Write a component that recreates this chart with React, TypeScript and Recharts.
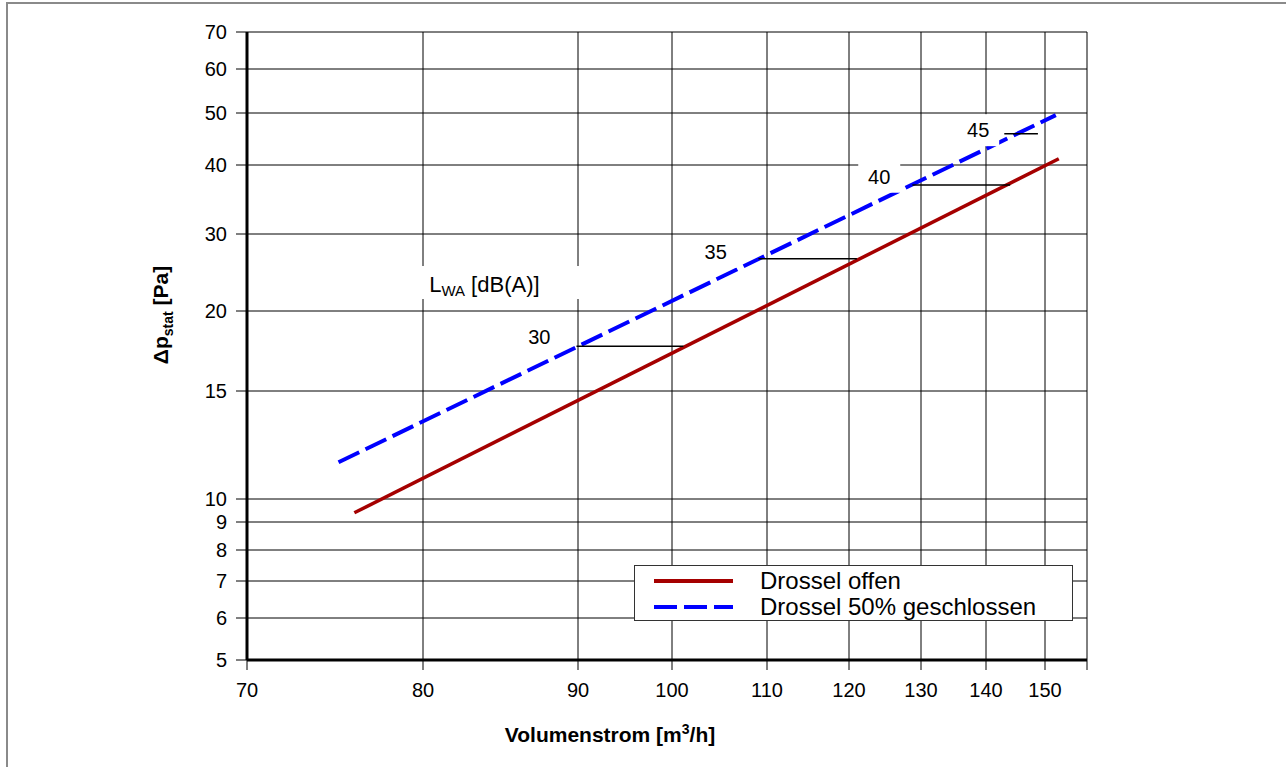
import React from 'react'
import {
  LineChart,
  Line,
  XAxis,
  YAxis,
  CartesianGrid,
  ReferenceLine,
  ReferenceDot,
  Legend,
} from 'recharts'

const FONT = '"Liberation Sans", Arial, sans-serif'

// Volumenstrom [m3/h]; the last tick is the unlabelled end of the axis
const flowTicks = [70, 80, 90, 100, 110, 120, 130, 140, 150, 157]
// spacing of the printed grid (the sheet is not a true log grid)
const flowGrid = [0, 176, 331, 425, 520, 602, 674, 739, 798, 840]

// Δp_stat [Pa]
const dpTicks = [5, 6, 7, 8, 9, 10, 15, 20, 30, 40, 50, 60, 70]
const dpGrid = [0, 42, 79, 110, 138, 161, 269, 349, 426, 495, 547, 591, 628]

const seriesNames = ['Drossel offen', 'Drossel 50% geschlossen']
const flowOpen = [76.1, 152.3]
const dpOpen = [9.4, 41.2]
const flowHalf = [75.2, 151.8]
const dpHalf = [11.7, 49.6]

// L_WA marks along the dashed curve
const levels = [30, 35, 40, 45]
const levelFlowFrom = [89.9, 109.1, 128.8, 143.1]
const levelFlowTo = [101.2, 121.1, 144.1, 148.8]
const levelDp = [17.8, 26.8, 37.1, 46.0]
const levelLabelFlow = [87.5, 104.6, 124.2, 138.8]
const levelLabelDp = [18.4, 27.7, 38.3, 46.7]

function toGrid(v: number, ticks: number[], grid: number[]) {
  let i = 0
  while (i < ticks.length - 2 && v > ticks[i + 1]) i++
  const t = (v - ticks[i]) / (ticks[i + 1] - ticks[i])
  return grid[i] + t * (grid[i + 1] - grid[i])
}
const fx = (v: number) => toGrid(v, flowTicks, flowGrid)
const fy = (v: number) => toGrid(v, dpTicks, dpGrid)

const openData = flowOpen.map((f, i) => ({ x: fx(f), y: fy(dpOpen[i]) }))
const halfData = flowHalf.map((f, i) => ({ x: fx(f), y: fy(dpHalf[i]) }))

const xLabel = (u: number) => {
  const i = flowGrid.indexOf(u)
  return i < 0 || i === flowTicks.length - 1 ? '' : String(flowTicks[i])
}
const yLabel = (u: number) => {
  const i = dpGrid.indexOf(u)
  return i < 0 ? '' : String(dpTicks[i])
}

const XTitle = () => (
  <text x={610} y={742} textAnchor="middle" fontWeight="bold" fontSize={21} fontFamily={FONT} fill="#000">
    Volumenstrom [m<tspan dy={-8} fontSize={14}>3</tspan>
    <tspan dy={8}>/h]</tspan>
  </text>
)

const YTitle = () => (
  <text
    transform="rotate(-90 168 315)"
    x={168}
    y={315}
    textAnchor="middle"
    fontWeight="bold"
    fontSize={21}
    fontFamily={FONT}
    fill="#000"
  >
    Δp<tspan dy={5} fontSize={14}>stat</tspan>
    <tspan dy={-5}> [Pa]</tspan>
  </text>
)

const LevelTag = ({ cx, cy, text }: any) => (
  <g>
    <rect x={cx - 21} y={cy - 16} width={42} height={32} fill="#fff" />
    <text x={cx} y={cy + 7} textAnchor="middle" fontSize={20} fontFamily={FONT} fill="#000">
      {text}
    </text>
  </g>
)

const LwaTag = ({ cx, cy }: any) => (
  <g>
    <rect x={cx - 90} y={cy - 16.5} width={180} height={33} fill="#fff" />
    <text x={cx - 76} y={cy + 9.5} fontSize={22} fontFamily={FONT} fill="#000">
      L<tspan dy={4} fontSize={15}>WA</tspan>
      <tspan dy={-4}> [dB(A)]</tspan>
    </text>
  </g>
)

const LegendBox = ({ payload }: any) => {
  const items = [...(payload || [])].sort(
    (a: any, b: any) => seriesNames.indexOf(a.value) - seriesNames.indexOf(b.value),
  )
  return (
    <div
      style={{
        width: 439,
        height: 56,
        boxSizing: 'border-box',
        border: '1px solid #333',
        background: '#fff',
        fontFamily: FONT,
        fontSize: 24,
        paddingTop: 2,
      }}
    >
      {items.map((entry: any) => (
        <div key={entry.value} style={{ display: 'flex', alignItems: 'center', height: 26 }}>
          <svg width={100} height={10} style={{ marginLeft: 19 }}>
            <line
              x1={0}
              y1={5}
              x2={79}
              y2={5}
              stroke={entry.color}
              strokeWidth={4}
              strokeDasharray={entry.payload?.strokeDasharray}
            />
          </svg>
          <span style={{ marginLeft: 6, lineHeight: '26px' }}>{entry.value}</span>
        </div>
      ))}
    </div>
  )
}

export default function App() {
  return (
    <div style={{ position: 'absolute', left: 0, top: 0, width: 1286, height: 767, overflow: 'hidden', background: '#fff' }}>
      <div
        style={{
          position: 'absolute',
          left: 6,
          top: 2,
          width: 1400,
          height: 900,
          border: '2px solid #8a8a8a',
        }}
      />
      <div style={{ position: 'absolute', left: 0, top: 0 }}>
        <LineChart width={1286} height={767} margin={{ top: 32, right: 199, bottom: 0, left: 0 }}>
          <CartesianGrid stroke="#000" strokeWidth={1} />
          <XAxis
            type="number"
            dataKey="x"
            domain={[0, 840]}
            ticks={flowGrid}
            interval={0}
            allowDataOverflow
            tickFormatter={xLabel}
            height={107}
            tickSize={10}
            tickMargin={13}
            axisLine={{ stroke: '#000', strokeWidth: 3 }}
            tickLine={{ stroke: '#000', strokeWidth: 1 }}
            tick={{ fill: '#000', fontSize: 20, fontFamily: FONT }}
            label={{ content: XTitle }}
          />
          <YAxis
            type="number"
            domain={[0, 628]}
            ticks={dpGrid}
            interval={0}
            allowDataOverflow
            tickFormatter={yLabel}
            width={247}
            tickSize={11}
            tickMargin={9}
            axisLine={{ stroke: '#000', strokeWidth: 3 }}
            tickLine={{ stroke: '#000', strokeWidth: 1 }}
            tick={{ fill: '#000', fontSize: 20, fontFamily: FONT }}
            label={{ content: YTitle }}
          />
          <Line
            data={openData}
            dataKey="y"
            name={seriesNames[0]}
            stroke="#A50000"
            strokeWidth={3.5}
            dot={false}
            activeDot={false}
            isAnimationActive={false}
          />
          <Line
            data={halfData}
            dataKey="y"
            name={seriesNames[1]}
            stroke="#0000FF"
            strokeWidth={4}
            strokeDasharray="23 7"
            dot={false}
            activeDot={false}
            isAnimationActive={false}
          />
          {levels.map((lv, i) => (
            <ReferenceLine
              key={'m' + lv}
              segment={[
                { x: fx(levelFlowFrom[i]), y: fy(levelDp[i]) },
                { x: fx(levelFlowTo[i]), y: fy(levelDp[i]) },
              ]}
              stroke="#000"
              strokeWidth={1.5}
            />
          ))}
          {levels.map((lv, i) => (
            <ReferenceDot
              key={'t' + lv}
              x={fx(levelLabelFlow[i])}
              y={fy(levelLabelDp[i])}
              r={0}
              ifOverflow="visible"
              shape={(p: any) => <LevelTag cx={p.cx} cy={p.cy} text={String(lv)} />}
            />
          ))}
          <ReferenceDot
            x={fx(85.3)}
            y={fy(23.7)}
            r={0}
            ifOverflow="visible"
            shape={(p: any) => <LwaTag cx={p.cx} cy={p.cy} />}
          />
          <Legend
            layout="vertical"
            align="center"
            verticalAlign="middle"
            content={LegendBox}
            wrapperStyle={{ left: 634, top: 565, width: 439, height: 56 }}
          />
        </LineChart>
      </div>
    </div>
  )
}
